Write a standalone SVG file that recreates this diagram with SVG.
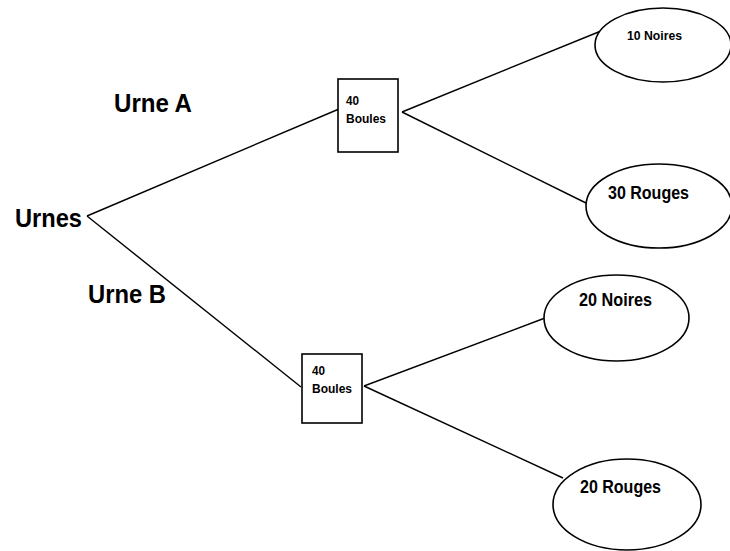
<svg xmlns="http://www.w3.org/2000/svg" width="730" height="551" viewBox="0 0 730 551">
<style>
.ln{stroke:#000;stroke-width:1.4;fill:none}
.nd{stroke:#000;stroke-width:1.6;fill:#fff}
.t{font-family:"Liberation Sans",Arial,sans-serif;font-weight:bold;fill:#000}
</style>
<rect width="730" height="551" fill="#fff"/>
<g id="connectors">
<line class="ln" x1="87" y1="216" x2="339" y2="109"/>
<line class="ln" x1="87" y1="216" x2="301" y2="387"/>
<line class="ln" x1="402" y1="112" x2="601" y2="31"/>
<line class="ln" x1="402" y1="112" x2="588" y2="204"/>
<line class="ln" x1="364" y1="386" x2="545" y2="318"/>
<line class="ln" x1="364" y1="386" x2="563" y2="478"/>
</g>
<g id="labels">
<text class="t" x="15" y="227" font-size="26" textLength="67" lengthAdjust="spacingAndGlyphs">Urnes</text>
<text class="t" x="114" y="112" font-size="26" textLength="78" lengthAdjust="spacingAndGlyphs">Urne A</text>
<text class="t" x="88" y="303" font-size="26" textLength="78" lengthAdjust="spacingAndGlyphs">Urne B</text>
</g>
<g id="boxA">
<rect class="nd" x="338" y="79" width="60" height="73"/>
<text class="t" x="346" y="105" font-size="13" textLength="13" lengthAdjust="spacingAndGlyphs">40</text>
<text class="t" x="346" y="123" font-size="13" textLength="40" lengthAdjust="spacingAndGlyphs">Boules</text>
</g>
<g id="boxB">
<rect class="nd" x="302" y="354" width="60" height="69"/>
<text class="t" x="312" y="375" font-size="13" textLength="13" lengthAdjust="spacingAndGlyphs">40</text>
<text class="t" x="312" y="393" font-size="13" textLength="40" lengthAdjust="spacingAndGlyphs">Boules</text>
</g>
<g id="n10noires">
<ellipse class="nd" cx="663" cy="45" rx="68" ry="37"/>
<text class="t" x="627" y="40" font-size="12.5" textLength="55" lengthAdjust="spacingAndGlyphs">10 Noires</text>
</g>
<g id="n30rouges">
<ellipse class="nd" cx="659" cy="206" rx="73" ry="42"/>
<text class="t" x="608" y="199" font-size="19" textLength="81" lengthAdjust="spacingAndGlyphs">30 Rouges</text>
</g>
<g id="n20noires">
<ellipse class="nd" cx="616.5" cy="318" rx="72.5" ry="43"/>
<text class="t" x="579" y="306" font-size="19" textLength="73" lengthAdjust="spacingAndGlyphs">20 Noires</text>
</g>
<g id="n20rouges">
<ellipse class="nd" cx="627" cy="504.5" rx="74" ry="45.5"/>
<text class="t" x="580" y="493" font-size="19" textLength="81" lengthAdjust="spacingAndGlyphs">20 Rouges</text>
</g>
</svg>
